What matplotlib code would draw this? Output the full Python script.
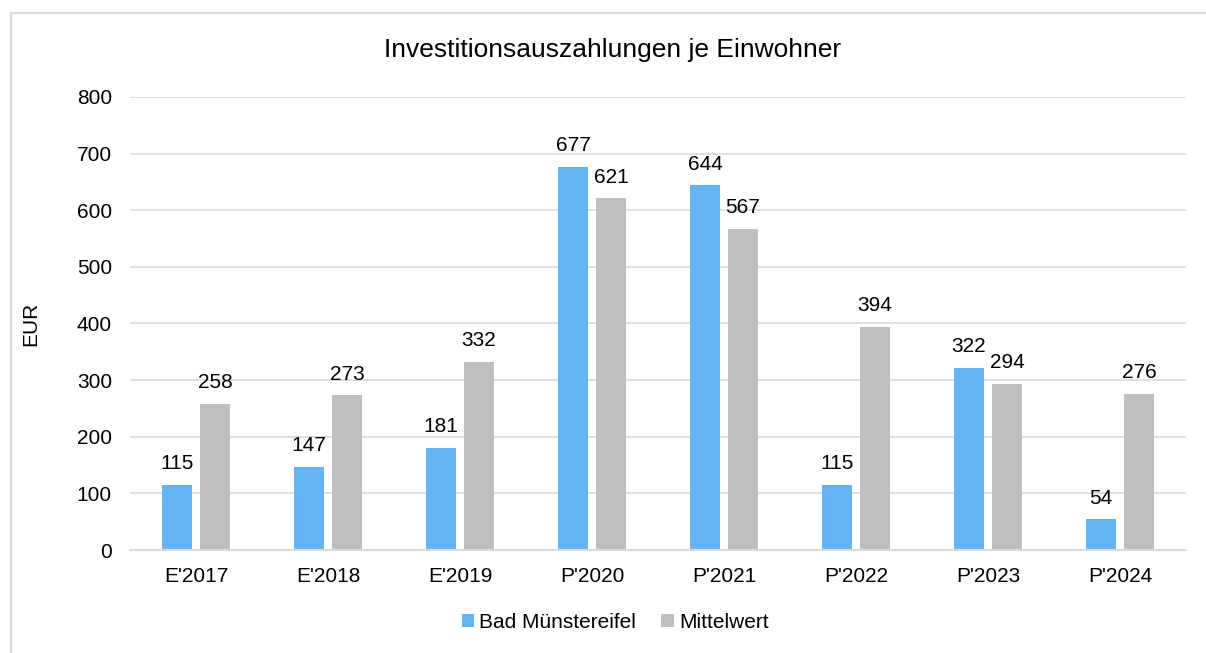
import matplotlib.pyplot as plt
import numpy as np
from matplotlib.patches import Rectangle

plt.rcParams['font.family'] = ['Liberation Sans', 'DejaVu Sans']

# Data
categories = ["E'2017", "E'2018", "E'2019", "P'2020", "P'2021", "P'2022", "P'2023", "P'2024"]
bad_muenstereifel = [115, 147, 181, 677, 644, 115, 322, 54]
mittelwert = [258, 273, 332, 621, 567, 394, 294, 276]

blue = '#63b4f5'
gray = '#bfbfbf'
fs = 15

fig = plt.figure(figsize=(12.06, 6.53), dpi=100)
ax = fig.add_axes([0.1078, 0.1577, 0.8756, 0.6938])

# outer chart border
fig.patches.append(Rectangle((11 / 1206, -0.01), 1.1, 1 - 13 / 653 + 0.01, transform=fig.transFigure,
                             fill=False, edgecolor='#d9d9d9', linewidth=1.5))

x = np.arange(len(categories))
w = 0.227
gap = 0.06
b1 = ax.bar(x - (w + gap) / 2, bad_muenstereifel, w, color=blue, label='Bad Münstereifel')
b2 = ax.bar(x + (w + gap) / 2, mittelwert, w, color=gray, label='Mittelwert')

for bars, vals in ((b1, bad_muenstereifel), (b2, mittelwert)):
    for rect, v in zip(bars, vals):
        ax.annotate(str(v), (rect.get_x() + rect.get_width() / 2, v), xytext=(0, 8.5),
                    textcoords='offset points', ha='center', va='bottom', fontsize=fs)

ax.set_xlim(-0.5, len(categories) - 0.5)
ax.set_ylim(0, 800)
ax.set_yticks(range(0, 801, 100))
ax.set_xticks(x)
ax.set_xticklabels(categories)
ax.tick_params(axis='both', length=0, labelsize=fs, pad=12)
ax.tick_params(axis='y', pad=13)
ax.grid(axis='y', color='#d9d9d9', linewidth=1.2)
ax.set_axisbelow(True)
for s in ['top', 'right', 'left']:
    ax.spines[s].set_visible(False)
ax.spines['bottom'].set_color('#d9d9d9')
ax.spines['bottom'].set_linewidth(1.5)

ax.set_ylabel('EUR', fontsize=fs, labelpad=26)
fig.text(0.508, 1 - 50 / 653, 'Investitionsauszahlungen je Einwohner', ha='center', va='center', fontsize=19)

fig.legend(loc='center', bbox_to_anchor=(0.51, 1 - 622 / 653), ncol=2, frameon=False, fontsize=fs,
           handlelength=0.6, handleheight=0.6, handletextpad=0.25, columnspacing=1.2)

plt.savefig('out.png', dpi=100)
